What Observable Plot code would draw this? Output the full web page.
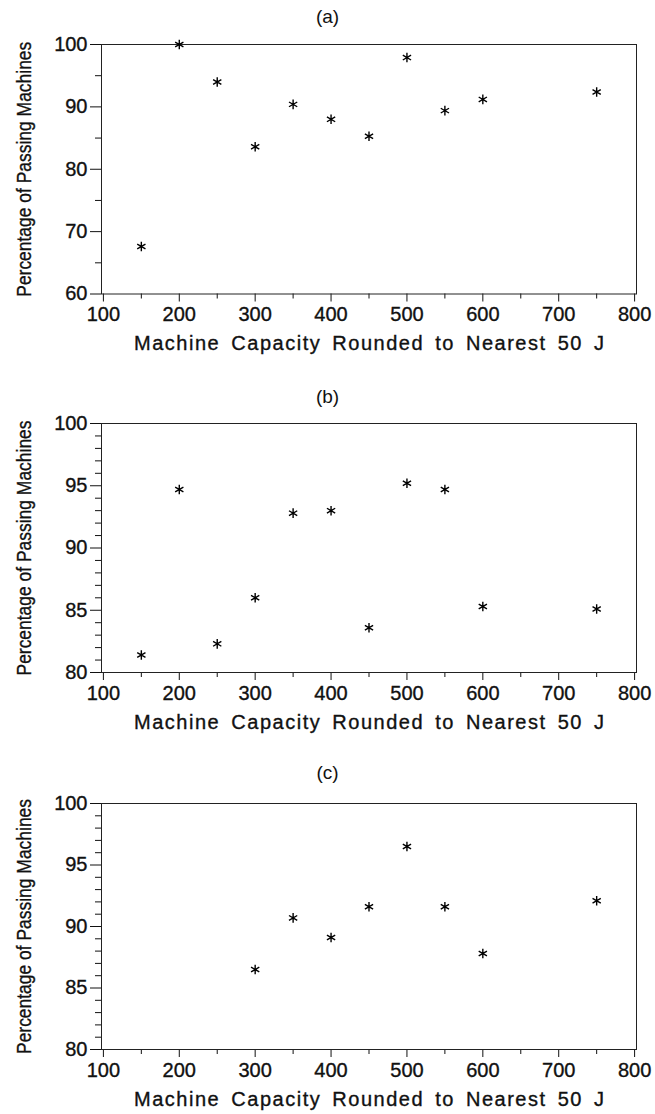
<!DOCTYPE html>
<html><head><meta charset="utf-8">
<script src="https://cdn.jsdelivr.net/npm/d3@7"></script>
<script src="https://cdn.jsdelivr.net/npm/@observablehq/plot@0.6"></script>
<style>
body{margin:0;background:#fff;}
#wrap{position:relative;width:655px;height:1114px;overflow:hidden;background:#fff;font-family:"Liberation Sans",Arial,sans-serif;}
.ptitle{position:absolute;left:0;width:655px;text-align:center;font-size:19px;line-height:20px;color:#111;}
.panel{position:absolute;left:0;}
</style></head><body><div id="wrap"></div>
<script>
// ---- data ----
const capA = [150, 200, 250, 300, 350, 400, 450, 500, 550, 600, 750];
const pctA = [67.6, 100.0, 94.0, 83.6, 90.4, 88.0, 85.3, 97.9, 89.4, 91.2, 92.4];
const capB = [150, 200, 250, 300, 350, 400, 450, 500, 550, 600, 750];
const pctB = [81.4, 94.7, 82.3, 86.0, 92.8, 93.0, 83.6, 95.2, 94.7, 85.3, 85.1];
const capC = [300, 350, 400, 450, 500, 550, 600, 750];
const pctC = [86.5, 90.7, 89.1, 91.6, 96.5, 91.6, 87.8, 92.1];

const xMajor = [100, 200, 300, 400, 500, 600, 700, 800];
const xMinor = [150, 250, 350, 450, 550, 650, 750];
const yMajorA = [60, 70, 80, 90, 100];
const yMinorA = [65, 75, 85, 95];
const yMajorBC = [80, 85, 90, 95, 100];
const yMinorBC = [81, 82, 83, 84, 86, 87, 88, 89, 91, 92, 93, 94, 96, 97, 98, 99];

const panelTitles = ["(a)", "(b)", "(c)"];
const xTitle = "Machine Capacity Rounded to Nearest 50 J";
const yTitle = "Percentage of Passing Machines";

const FONT = "'Liberation Sans', Arial, sans-serif";
const wrap = document.getElementById("wrap");

function panel(cfg) {
  const data = cfg.caps.map((c, i) => ({cap: c, pct: cfg.pcts[i]}));
  const svg = Plot.plot({
    width: 655, height: cfg.height,
    marginLeft: 101, marginRight: 19, marginTop: cfg.mt, marginBottom: cfg.mb,
    x: {domain: [97.5, 802.5]},
    y: {domain: cfg.yDomain},
    style: {fontFamily: FONT, fontSize: "20px", color: "#111", background: "white", overflow: "visible"},
    marks: [
      Plot.axisX(xMajor, {tickSize: 8, tickPadding: 5, label: null, tickFormat: d => String(d)}),
      Plot.axisX(xMinor, {tickSize: 5, label: null, tickFormat: () => ""}),
      Plot.axisY(cfg.yMajor, {tickSize: 11, tickPadding: 3, label: null, tickFormat: d => String(d)}),
      Plot.axisY(cfg.yMinor, {tickSize: 6, label: null, tickFormat: () => ""}),
      Plot.frame({stroke: "#222", strokeWidth: 1}),
      Plot.dot(data, {x: "cap", y: "pct", symbol: "asterisk", r: 4.5, stroke: "#000", strokeWidth: 1.4}),
      Plot.text([xTitle], {frameAnchor: "bottom", dy: 50, lineAnchor: "middle", textAnchor: "middle", fill: "#111"}),
      Plot.text([yTitle], {frameAnchor: "left", dx: -77, rotate: -90, lineAnchor: "middle", textAnchor: "middle", fill: "#111"})
    ]
  });
  svg.classList.add("panel");
  svg.style.top = cfg.top + "px";
  d3.select(svg).selectAll("text").each(function() {
    const t = this.textContent;
    const s = d3.select(this);
    s.style("stroke", "#111").style("stroke-width", "0.35px");
    if (t === xTitle) {
      s.style("font-size", "20px").style("word-spacing", "4px")
       .attr("textLength", 470).attr("lengthAdjust", "spacing");
    } else if (t === yTitle) {
      s.style("font-size", "21px")
       .attr("textLength", 255).attr("lengthAdjust", "spacingAndGlyphs");
    } else {
      s.style("font-size", "20px");
    }
  });
  wrap.appendChild(svg);
  const tt = document.createElement("div");
  tt.className = "ptitle";
  tt.textContent = cfg.title;
  tt.style.top = (cfg.titleY - 10) + "px";
  wrap.appendChild(tt);
}

panel({top: 0, height: 370, mt: 44, mb: 76.5, caps: capA, pcts: pctA, yDomain: [60, 100], yMajor: yMajorA, yMinor: yMinorA, title: panelTitles[0], titleY: 17});
panel({top: 370, height: 370, mt: 53, mb: 68, caps: capB, pcts: pctB, yDomain: [80, 100], yMajor: yMajorBC, yMinor: yMinorBC, title: panelTitles[1], titleY: 397});
panel({top: 740, height: 374, mt: 63, mb: 65, caps: capC, pcts: pctC, yDomain: [80, 100], yMajor: yMajorBC, yMinor: yMinorBC, title: panelTitles[2], titleY: 773});
</script></body></html>
